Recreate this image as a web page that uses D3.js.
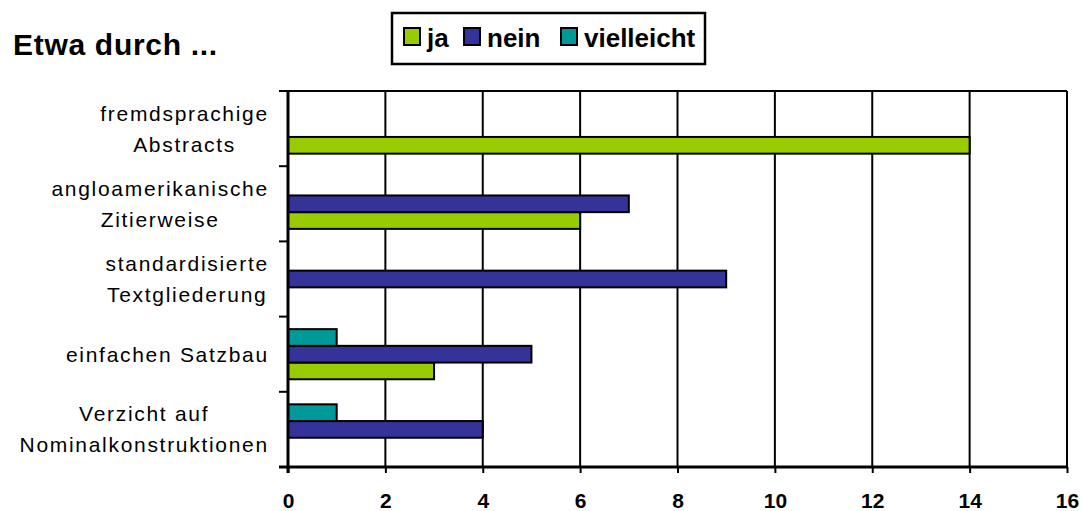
<!DOCTYPE html>
<html>
<head>
<meta charset="utf-8">
<script src="https://cdn.jsdelivr.net/npm/d3@7"></script>
<style>
  html, body { margin: 0; padding: 0; background: #fff; }
  svg { display: block; font-family: "Liberation Sans", Arial, sans-serif; }
</style>
</head>
<body>
<svg id="chart" width="1082" height="511"></svg>
<script>
// ---- data ----
const categories = [
  ["fremdsprachige", "Abstracts"],
  ["angloamerikanische", "Zitierweise"],
  ["standardisierte", "Textgliederung"],
  ["einfachen Satzbau"],
  ["Verzicht auf", "Nominalkonstruktionen"]
];
const seriesNames = ["ja", "nein", "vielleicht"];
const jaValues = [14, 6, 0, 3, 0];
const neinValues = [0, 7, 9, 5, 4];
const vielleichtValues = [0, 0, 0, 1, 1];
const xTickValues = [0, 2, 4, 6, 8, 10, 12, 14, 16];
const titleText = "Etwa durch ...";
const colors = { ja: "#99CC00", nein: "#333399", vielleicht: "#009999" };

(function () {
// ---- layout ----
const svg = d3.select("#chart");
const pLeft = 288, pRight = 1067, pTop = 91, pBottom = 467;
const catKeys = categories.map((c, i) => i);
const x = d3.scaleLinear().domain([0, 16]).range([pLeft, pRight]);
const y = d3.scaleBand().domain(catKeys).range([pTop, pBottom]).padding(0);
const ySub = d3.scaleBand().domain(["vielleicht", "nein", "ja"])
  .range([0, y.bandwidth()]).paddingInner(0).paddingOuter(0.75);

const valuesBySeries = { ja: jaValues, nein: neinValues, vielleicht: vielleichtValues };

// gridlines
svg.append("g").selectAll("line").data(xTickValues.filter(v => v > 0)).join("line")
  .attr("x1", d => x(d)).attr("x2", d => x(d))
  .attr("y1", pTop).attr("y2", pBottom)
  .attr("stroke", "#000").attr("stroke-width", 2);
// top border
svg.append("line").attr("x1", pLeft).attr("x2", pRight).attr("y1", pTop).attr("y2", pTop)
  .attr("stroke", "#000").attr("stroke-width", 2);

// bars
const barData = [];
catKeys.forEach(i => {
  seriesNames.forEach(s => {
    const v = valuesBySeries[s][i];
    if (v > 0) barData.push({ cat: i, series: s, value: v });
  });
});
svg.append("g").selectAll("rect").data(barData).join("rect")
  .attr("x", x(0))
  .attr("y", d => y(d.cat) + ySub(d.series))
  .attr("width", d => x(d.value) - x(0))
  .attr("height", ySub.bandwidth())
  .attr("fill", d => colors[d.series])
  .attr("stroke", "#000").attr("stroke-width", 2);

// x axis
const xAxis = svg.append("g").attr("transform", `translate(0,${pBottom})`)
  .call(d3.axisBottom(x).tickValues(xTickValues).tickSize(6).tickFormat(d3.format("d")));
xAxis.select(".domain").attr("stroke", "#000").attr("stroke-width", 3)
  .attr("d", `M${pLeft - 9},0H${pRight}`);
xAxis.selectAll(".tick line").attr("stroke", "#000").attr("stroke-width", 2);
xAxis.selectAll(".tick text")
  .attr("y", 41).attr("dy", 0)
  .attr("fill", "#000")
  .style("font-family", '"Liberation Sans", Arial, sans-serif')
  .style("font-size", "21px").style("font-weight", "bold");

// y axis line and ticks at band boundaries
svg.append("line").attr("x1", pLeft).attr("x2", pLeft).attr("y1", pTop).attr("y2", pBottom + 6)
  .attr("stroke", "#000").attr("stroke-width", 3);
const yTicks = catKeys.map(i => y(i)).concat([y(catKeys[catKeys.length - 1]) + y.bandwidth()]);
svg.append("g").selectAll("line").data(yTicks).join("line")
  .attr("x1", pLeft - 9).attr("x2", pLeft).attr("y1", d => d).attr("y2", d => d)
  .attr("stroke", "#000").attr("stroke-width", 2);

// category labels
const labelRight = 268, lineGap = 31;
catKeys.forEach(i => {
  const lines = categories[i];
  const g = svg.append("g");
  const cy = y(i) + y.bandwidth() / 2;
  const texts = lines.map((ln, k) => g.append("text")
    .text(ln)
    .attr("y", cy + (k - (lines.length - 1) / 2) * lineGap + 7.5)
    .attr("text-anchor", "middle")
    .style("font-size", "21px")
    .style("letter-spacing", "1.7px")
    .attr("fill", "#000"));
  const maxW = d3.max(texts, t => t.node().getComputedTextLength());
  texts.forEach(t => t.attr("x", labelRight - maxW / 2 + 0.85));
});

// title
svg.append("text").text(titleText)
  .attr("x", 13).attr("y", 55)
  .style("font-size", "30px").style("font-weight", "bold")
  .style("letter-spacing", "0.7px")
  .attr("fill", "#000");

// legend
const legendX = [403, 463, 560];
svg.append("rect").attr("x", 392).attr("y", 13).attr("width", 313).attr("height", 51)
  .attr("fill", "#fff").attr("stroke", "#000").attr("stroke-width", 2.5);
const lg = svg.append("g").selectAll("g").data(seriesNames).join("g")
  .attr("transform", (d, i) => `translate(${legendX[i]},0)`);
lg.append("rect").attr("x", 1).attr("y", 28).attr("width", 16).attr("height", 17)
  .attr("fill", d => colors[d]).attr("stroke", "#000").attr("stroke-width", 2);
lg.append("text").text(d => d).attr("x", 24).attr("y", 47)
  .style("font-size", "26px").style("font-weight", "bold").attr("fill", "#000");
})();
</script>
</body>
</html>
